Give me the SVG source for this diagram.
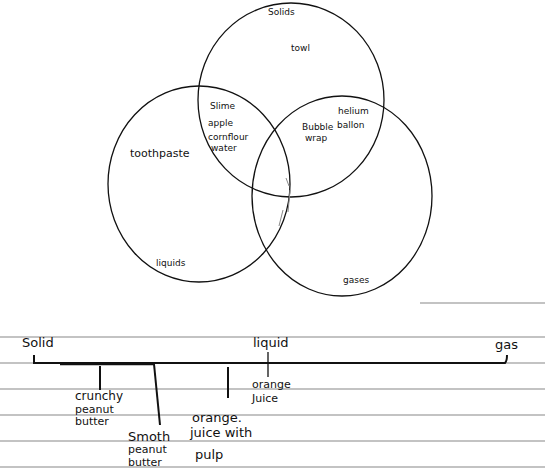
<svg xmlns="http://www.w3.org/2000/svg" width="551" height="470" viewBox="0 0 551 470">
<style>
.c{fill:none;stroke:#111;stroke-width:1.3}
.r{stroke:#888;stroke-width:1.1}
.t{font-family:"DejaVu Sans","Liberation Sans",sans-serif;fill:#111}
.s{font-size:9px}
.m{font-size:11px}
.l{font-size:13px}
.k{stroke:#111;stroke-width:2;fill:none}
</style>
<rect width="551" height="470" fill="#fff"/>
<g id="venn">
<g id="solids"><ellipse class="c" cx="291" cy="100" rx="93" ry="97"/>
<text class="t s" x="268" y="15">Solids</text>
<text class="t s" x="291" y="51">towl</text></g>
<g id="liquids"><ellipse class="c" cx="199" cy="184" rx="91" ry="98"/>
<text class="t m" x="130" y="157">toothpaste</text>
<text class="t s" x="156" y="266">liquids</text></g>
<g id="gases"><ellipse class="c" cx="342" cy="196" rx="90" ry="100"/>
<text class="t s" x="343" y="283">gases</text></g>
<g id="solid-liquid">
<text class="t s" x="210" y="109">Slime</text>
<text class="t s" x="208" y="126">apple</text>
<text class="t s" x="208" y="140">cornflour</text>
<text class="t s" x="211" y="151">water</text></g>
<g id="solid-gas">
<text class="t s" x="338" y="114">helium</text>
<text class="t s" x="337" y="128">ballon</text>
<text class="t s" x="302" y="130">Bubble</text>
<text class="t s" x="305" y="141">wrap</text></g>
<path d="M286 178 L289 186 M290 190 L288 212 M283 210 L279 226" stroke="#888" stroke-width="1" fill="none"/>
</g>
<g id="rule">
<line class="r" x1="420" y1="303" x2="545" y2="303"/>
<line class="r" x1="0" y1="337" x2="545" y2="337"/>
<line class="r" x1="0" y1="363" x2="545" y2="363"/>
<line class="r" x1="0" y1="389" x2="545" y2="389"/>
<line class="r" x1="0" y1="415" x2="545" y2="415"/>
<line class="r" x1="0" y1="441" x2="545" y2="441"/>
<line class="r" x1="0" y1="467" x2="545" y2="467"/>
</g>
<g id="connectors">
<path class="k" d="M34 355 L34 363 L505 363 Q507 361 507 355"/>
<path d="M60 364 L155 364" stroke="#111" stroke-width="2.5"/>
<line class="k" x1="100" y1="366" x2="100" y2="390"/>
<line class="k" x1="154" y1="364" x2="160" y2="425"/>
<line class="k" x1="228" y1="367" x2="228" y2="398"/>
<line x1="268" y1="352" x2="268" y2="377" stroke="#111" stroke-width="1.3"/>
</g>
<g id="timeline-labels">
<text class="t l" x="22" y="347">Solid</text>
<text class="t l" x="253" y="347">liquid</text>
<text class="t l" x="495" y="349">gas</text>
<text class="t m" x="252" y="388">orange</text>
<text class="t m" x="252" y="402">Juice</text>
<text class="t" font-size="12" x="75" y="400">crunchy</text>
<text class="t m" x="75" y="413">peanut</text>
<text class="t m" x="75" y="425">butter</text>
<text class="t l" x="128" y="441">Smoth</text>
<text class="t m" x="128" y="453">peanut</text>
<text class="t m" x="128" y="466">butter</text>
<text class="t l" x="192" y="422">orange.</text>
<text class="t l" x="190" y="437">juice with</text>
<text class="t l" x="195" y="459">pulp</text>
</g>
</svg>
